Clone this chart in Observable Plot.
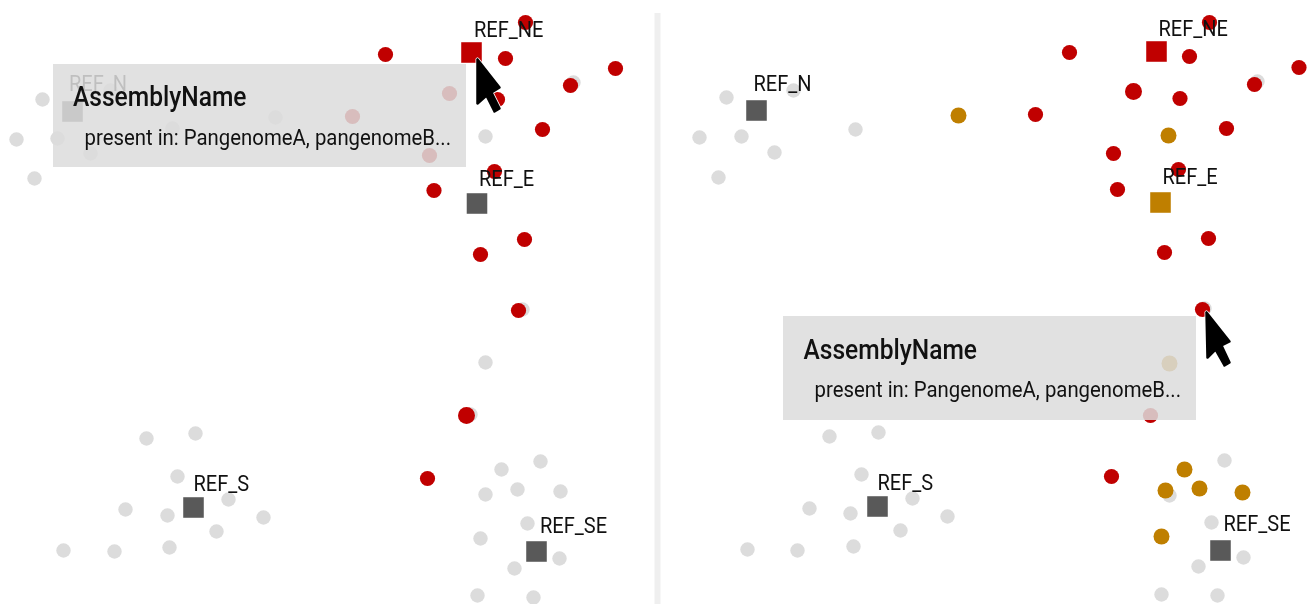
<!DOCTYPE html>
<html><head><meta charset="utf-8">
<style>html,body{margin:0;padding:0;background:#fff}svg{display:block;filter:blur(0.4px)}</style>
<script src="https://cdn.jsdelivr.net/npm/d3@7"></script>
<script src="https://cdn.jsdelivr.net/npm/@observablehq/plot@0.6"></script>
</head><body><div id="chart"></div>
<script>
// Panel A (left), assemblies as [x, y]
const greyA = [[42,99],[16,139],[57,138],[90,153],[34,178],[275,117],[172,128],[110,90],[485,136],[573,82],[485,362],[522,309],[470,414],
 [146,438],[195,433],[177,476],[125,509],[167,515],[228,499],[263,517],[216,531],[169,547],[63,550],[114,551],
 [540,461],[501,469],[517,489],[485,494],[560,491],[527,523],[480,538],[559,558],[514,568],[477,595],[533,597]];
const redA = [[525,22],[385,54],[505,58],[615,68],[570,85],[497,99],[449,93],[352,116],[542,129],[429,155],[494,171],[433.5,190],[524,239],[480,254],[518,310],[427,478]];
const redLargeA = [[466,415]];
// Panel B (right)
const greyB = [[726,97],[793,90],[699,137],[741,136],[855,129],[774,152],[718,177],[1257,81],[1204,308],[829,436],[878,432],[861,474],[809,508],[850,513],[912,498],[947,516],[900,530],[853,546],[747,549],[797,550],
 [1224,460],[1169,495],[1211,522],[1243,557],[1198,566],[1161,594],[1217,595]];
const redB = [[1209,22],[1069,52],[1189,56],[1298.5,67],[1254,84],[1179.5,98],[1035,114],[1226,128],[1113,153],[1178,169],[1117,189],[1208,238],[1164,252],[1202,309],[1150,415],[1111,476]];
const redLargeB = [[1133,91]];
const orangeB = [[958,115],[1168,135],[1169,363],[1184,469],[1165,490],[1199,488],[1242,492],[1161,536]];
// Reference assemblies
const refNames = ["REF_N","REF_NE","REF_E","REF_S","REF_SE"];
const refA = [[72,111],[471,52],[476.5,203],[193,507],[536,551]];
const refB = [[756,110],[1156,51],[1160,202],[877,506],[1220,550]];
const refKindA = ["other","red","other","other","other"];
const refKindB = ["other","red","orange","other","other"];
const labelA = [[68.5,83],[473.5,29],[478.5,178],[193,483],[539.5,525]];
const labelB = [[753,83],[1158,28],[1162,176],[877,482],[1223,523]];
// Tooltips
const tipBoxes = [[53,466,64,167],[783,1196,316,420]];
const tipTitles = [[72.5,97],[803,350]];
const tipBodies = [[84,137],[814,389]];
const tipTitle = "AssemblyName";
const tipBody = "present in: PangenomeA, pangenomeB...";
// Mouse pointers
const cursorA = [[477,59],[499,87],[491,92],[499,108],[494,111],[486,95],[477,103]];
const cursorB = [[1206,312],[1229,341],[1221,345],[1229,362],[1224,365],[1215,349],[1207,357]];
const divider = [[657,13,604]];

const colors = {grey:"#dcdcdc", red:"#c00000", orange:"#bf7f00", other:"#595959", tip:"#dcdcdc"};
const font = "Roboto,sans-serif";
const X = d => d[0], Y = d => d[1];
const dots = (a, c, r) => Plot.dot(a, {x:X, y:Y, r, fill:c});
const refs = (a, kinds) => Plot.dot(a, {x:X, y:Y, r:11.6, symbol:"square", fill:(d,i)=>colors[kinds[i]]});
const labels = a => Plot.text(a, {x:X, y:Y, text:(d,i)=>refNames[i], textAnchor:"start", fontSize:22, fontFamily:font, fill:"#111"});
const pointer = a => [
  Plot.line([...a, a[0]], {x:X, y:Y, stroke:"#fff", strokeWidth:4, curve:"linear"}),
  Plot.line([...a, a[0]], {x:X, y:Y, fill:"#000", stroke:"#000", strokeWidth:2.5, curve:"linear"})
];

const plot = Plot.plot({
  width:1307, height:604, margin:0,
  x:{domain:[0,1307], range:[0,1307], axis:null},
  y:{domain:[0,604], range:[0,604], axis:null},
  marks:[
    Plot.ruleX(divider, {x:d=>d[0], y1:d=>d[1], y2:d=>d[2], stroke:"#efefef", strokeWidth:6}),
    dots(greyA, colors.grey, 7.2), dots(redA, colors.red, 7.6), dots(redLargeA, colors.red, 8.5),
    dots(greyB, colors.grey, 7.2), dots(redB, colors.red, 7.6), dots(redLargeB, colors.red, 8.5), dots(orangeB, colors.orange, 8),
    refs(refA, refKindA), refs(refB, refKindB),
    labels(labelA), labels(labelB),
    Plot.rect(tipBoxes, {x1:d=>d[0], x2:d=>d[1], y1:d=>d[2], y2:d=>d[3], fill:colors.tip, fillOpacity:0.86}),
    Plot.text(tipTitles, {x:X, y:Y, text:()=>tipTitle, textAnchor:"start", fontSize:27, fontWeight:500, fontFamily:font, fill:"#111"}),
    Plot.text(tipBodies, {x:X, y:Y, text:()=>tipBody, textAnchor:"start", fontSize:22, fontFamily:font, fill:"#111"}),
    pointer(cursorA), pointer(cursorB)
  ]
});
document.getElementById("chart").append(plot);
// The reference uses a condensed face: squeeze the installed one horizontally.
plot.querySelectorAll("text").forEach(t => {
  const squeeze = t.textContent === tipBody ? 0.925 : 0.91;
  t.setAttribute("textLength", (t.getComputedTextLength() * squeeze).toFixed(1));
  t.setAttribute("lengthAdjust", "spacingAndGlyphs");
});
</script></body></html>
